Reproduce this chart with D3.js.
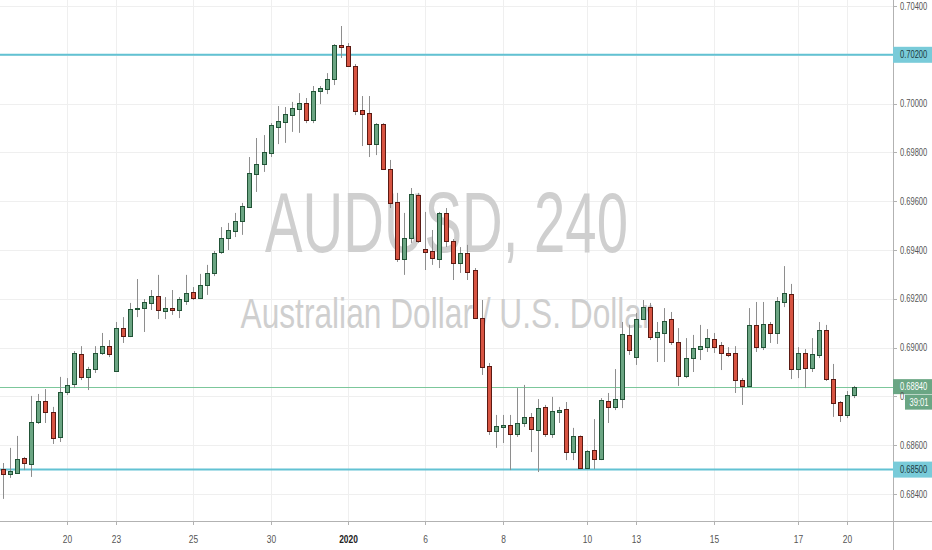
<!DOCTYPE html>
<html><head><meta charset="utf-8">
<script src="https://cdn.jsdelivr.net/npm/d3@7/dist/d3.min.js"></script>
<style>html,body{margin:0;padding:0;background:#fff;overflow:hidden}</style>
</head><body><svg id="c" width="932" height="550"></svg>
<script>
// ---- data (AUDUSD 4h candles) ----
const opens=[0.68502,0.68482,0.68486,0.68548,0.68523,0.68695,0.68781,0.68736,0.68634,0.68818,
0.68851,0.68974,0.68880,0.68912,0.68978,0.69006,0.68904,0.69080,0.69047,0.69158,
0.69162,0.69183,0.69211,0.69150,0.69162,0.69154,0.69191,0.69228,0.69203,0.69257,
0.69306,0.69392,0.69449,0.69478,0.69519,0.69576,0.69711,0.69752,0.69797,0.69904,
0.69925,0.69953,0.69978,0.70002,0.69933,0.70052,0.70060,0.70101,0.70240,0.70236,
0.70154,0.69974,0.69961,0.69834,0.69916,0.69732,0.69597,0.69363,0.69449,0.69625,
0.69404,0.69396,0.69363,0.69552,0.69437,0.69347,0.69388,0.69318,0.69121,0.68925,
0.68658,0.68675,0.68683,0.68646,0.68691,0.68716,0.68662,0.68757,0.68646,0.68736,
0.68748,0.68572,0.68638,0.68507,0.68580,0.68543,0.68781,0.68757,0.68789,0.69052,
0.68961,0.69117,0.69166,0.69043,0.69060,0.69117,0.69023,0.68884,0.68957,0.68994,
0.69002,0.69035,0.69011,0.68978,0.68978,0.68867,0.68843,0.69093,0.69002,0.69097,
0.69060,0.69187,0.69220,0.68912,0.68978,0.68916,0.68970,0.69072,0.68871,0.68777,
0.68724,0.68806];
const highs=[0.68527,0.68589,0.68638,0.68552,0.68802,0.68810,0.68830,0.68757,0.68880,0.68875,
0.68986,0.69006,0.68921,0.69006,0.69060,0.69031,0.69105,0.69125,0.69183,0.69281,
0.69199,0.69236,0.69298,0.69207,0.69236,0.69207,0.69298,0.69248,0.69302,0.69339,
0.69396,0.69494,0.69511,0.69552,0.69593,0.69781,0.69859,0.69871,0.69920,0.69990,
0.69986,0.70007,0.70043,0.70023,0.70072,0.70072,0.70125,0.70244,0.70318,0.70248,
0.70162,0.70031,0.70031,0.69920,0.69920,0.69769,0.69634,0.69552,0.69654,0.69634,
0.69556,0.69482,0.69556,0.69572,0.69445,0.69412,0.69421,0.69326,0.69195,0.68937,
0.68724,0.68724,0.68724,0.68834,0.68847,0.68732,0.68789,0.68765,0.68798,0.68757,
0.68777,0.68671,0.68640,0.68580,0.68707,0.68793,0.68814,0.68912,0.69105,0.69093,
0.69142,0.69195,0.69183,0.69105,0.69162,0.69146,0.69080,0.69039,0.69052,0.69093,
0.69076,0.69060,0.69023,0.69002,0.69006,0.68875,0.69162,0.69187,0.69187,0.69105,
0.69207,0.69334,0.69261,0.69002,0.68994,0.69039,0.69105,0.69093,0.68933,0.68781,
0.68822,0.68843];
const lows=[0.68380,0.68466,0.68482,0.68498,0.68470,0.68687,0.68691,0.68605,0.68613,0.68806,
0.68834,0.68867,0.68826,0.68896,0.68970,0.68961,0.68900,0.69019,0.69043,0.69125,
0.69064,0.69154,0.69117,0.69117,0.69134,0.69121,0.69175,0.69195,0.69199,0.69216,
0.69293,0.69384,0.69400,0.69453,0.69462,0.69572,0.69638,0.69720,0.69781,0.69834,
0.69839,0.69884,0.69880,0.69920,0.69920,0.69998,0.70039,0.70076,0.70187,0.70150,
0.69953,0.69826,0.69781,0.69789,0.69728,0.69572,0.69351,0.69298,0.69429,0.69429,
0.69318,0.69339,0.69326,0.69412,0.69277,0.69306,0.69277,0.69117,0.68888,0.68642,
0.68589,0.68609,0.68498,0.68634,0.68675,0.68572,0.68490,0.68634,0.68630,0.68691,
0.68539,0.68539,0.68502,0.68502,0.68502,0.68539,0.68691,0.68744,0.68752,0.68970,
0.68929,0.69113,0.69031,0.68941,0.68941,0.69011,0.68843,0.68875,0.68900,0.68949,
0.68982,0.68978,0.68908,0.68961,0.68814,0.68765,0.68839,0.68982,0.68990,0.69019,
0.69015,0.69166,0.68871,0.68875,0.68834,0.68900,0.68957,0.68863,0.68716,0.68695,
0.68711,0.68793];
const closes=[0.68482,0.68494,0.68543,0.68527,0.68695,0.68781,0.68736,0.68630,0.68818,0.68847,
0.68978,0.68880,0.68912,0.68978,0.69006,0.68974,0.69080,0.69047,0.69158,0.69162,
0.69187,0.69211,0.69154,0.69162,0.69154,0.69199,0.69224,0.69203,0.69257,0.69306,
0.69388,0.69449,0.69482,0.69519,0.69580,0.69716,0.69752,0.69802,0.69912,0.69929,
0.69957,0.69982,0.70002,0.69933,0.70052,0.70064,0.70101,0.70240,0.70234,0.70154,
0.69970,0.69957,0.69834,0.69916,0.69732,0.69593,0.69363,0.69449,0.69629,0.69437,
0.69392,0.69367,0.69552,0.69437,0.69347,0.69388,0.69310,0.69121,0.68921,0.68658,
0.68679,0.68683,0.68646,0.68691,0.68716,0.68666,0.68752,0.68646,0.68740,0.68744,
0.68572,0.68638,0.68507,0.68576,0.68543,0.68785,0.68757,0.68789,0.69056,0.68990,
0.69117,0.69166,0.69043,0.69064,0.69109,0.69023,0.68884,0.68957,0.68998,0.69006,
0.69039,0.69002,0.68978,0.68970,0.68867,0.68843,0.69093,0.69002,0.69097,0.69060,
0.69191,0.69224,0.68912,0.68978,0.68916,0.68974,0.69072,0.68871,0.68773,0.68724,
0.68806,0.68840];
const priceTicks=[0.684,0.686,0.688,0.690,0.692,0.694,0.696,0.698,0.700,0.702,0.704];
const timeTickIdx=[9,16,27,38,49,60,71,83,90,101,113,120];
const timeTickLabels=["20","23","25","30","2020","6","8","10","13","15","17","20"];
const levelLines=[0.702,0.685];
const lastPrice=0.6884;
const countdown="39:01";
const symbolText="AUDUSD, 240";
const descText="Australian Dollar / U.S. Dollar";

// ---- layout ----
const W=932,H=550,plotR=893,plotB=521;
const svg=d3.select("#c");
const font="'Liberation Sans',Arial,sans-serif";
const x=d3.scaleLinear().domain([0,opens.length-1]).range([3.3,854.3]);
const y=d3.scaleLinear().domain([0.684,0.704]).range([494,6]);
const px=v=>Math.round(x(v));
const py=v=>Math.round(y(v));
const SX=0.72; // narrow axis lettering

svg.append("rect").attr("width",W).attr("height",H).attr("fill","#fff");
const defs=svg.append("defs");
defs.append("clipPath").attr("id","peek").append("rect")
  .attr("x",plotR).attr("y",0).attr("width",12).attr("height",H);

// grid
const grid=svg.append("g");
grid.selectAll("line.h").data(priceTicks).join("line")
  .attr("x1",0).attr("x2",plotR).attr("y1",d=>py(d)+0.5).attr("y2",d=>py(d)+0.5)
  .attr("stroke","#efefef").attr("stroke-width",1);
grid.selectAll("line.v").data(timeTickIdx).join("line")
  .attr("x1",d=>px(d)+0.5).attr("x2",d=>px(d)+0.5).attr("y1",0).attr("y2",plotB)
  .attr("stroke","#efefef").attr("stroke-width",1);

// watermark
const cx=plotR/2;
svg.append("text").text(symbolText).attr("x",cx).attr("y",252).attr("text-anchor","middle")
  .attr("font-family",font).attr("font-size",86)
  .attr("textLength",363).attr("lengthAdjust","spacingAndGlyphs").attr("fill","#cfcfcf");
svg.append("text").text(descText).attr("x",cx).attr("y",328).attr("text-anchor","middle")
  .attr("font-family",font).attr("font-size",42)
  .attr("textLength",412).attr("lengthAdjust","spacingAndGlyphs").attr("fill","#cfcfcf");

// level lines
svg.selectAll("line.lvl").data(levelLines).join("line")
  .attr("x1",0).attr("x2",plotR).attr("y1",d=>y(d)).attr("y2",d=>y(d))
  .attr("stroke","#62c2d3").attr("stroke-width",2);
// last price line
svg.append("line").attr("x1",0).attr("x2",plotR).attr("y1",py(lastPrice)+0.5).attr("y2",py(lastPrice)+0.5)
  .attr("stroke","#7cc79b").attr("stroke-width",1);

// candles
const idx=d3.range(opens.length);
const cg=svg.append("g");
cg.selectAll("line.w").data(idx).join("line")
  .attr("x1",i=>px(i)+0.5).attr("x2",i=>px(i)+0.5)
  .attr("y1",i=>y(highs[i])).attr("y2",i=>y(lows[i]))
  .attr("stroke","#8e8e8e").attr("stroke-width",1);
cg.selectAll("rect.b").data(idx).join("rect")
  .attr("x",i=>px(i)-2+0.5).attr("width",4)
  .attr("y",i=>Math.round(y(Math.max(opens[i],closes[i])))+0.5)
  .attr("height",i=>Math.max(1,Math.round(y(Math.min(opens[i],closes[i])))-Math.round(y(Math.max(opens[i],closes[i])))))
  .attr("fill",i=>closes[i]>=opens[i]?"#6ba583":"#d75442")
  .attr("stroke",i=>closes[i]>=opens[i]?"#225437":"#5b1a13").attr("stroke-width",1);

// axes frame
svg.append("rect").attr("x",plotR+1).attr("y",0).attr("width",W-plotR).attr("height",H).attr("fill","#fff");
svg.append("rect").attr("x",0).attr("y",plotB+1).attr("width",W).attr("height",H-plotB).attr("fill","#fff");
svg.append("line").attr("x1",plotR+0.5).attr("x2",plotR+0.5).attr("y1",0).attr("y2",H).attr("stroke","#b2b2b2");
svg.append("line").attr("x1",0).attr("x2",W).attr("y1",plotB+0.5).attr("y2",plotB+0.5).attr("stroke","#b2b2b2");

// price axis
const shownTicks=priceTicks.filter(d=>!levelLines.includes(d) && d!==0.688);
const pa=svg.append("g");
pa.selectAll("line").data(priceTicks).join("line")
  .attr("x1",plotR).attr("x2",plotR+4).attr("y1",d=>py(d)+0.5).attr("y2",d=>py(d)+0.5).attr("stroke","#b2b2b2");
pa.selectAll("text").data(shownTicks).join("text")
  .text(d=>d.toFixed(5))
  .attr("transform",d=>`translate(${plotR+7},${y(d)+3.5}) scale(${SX},1)`)
  .attr("font-family",font).attr("font-size",10.5).attr("fill","#555");

// time axis
const ta=svg.append("g");
ta.selectAll("line").data(timeTickIdx).join("line")
  .attr("x1",d=>px(d)+0.5).attr("x2",d=>px(d)+0.5).attr("y1",plotB).attr("y2",plotB+4).attr("stroke","#b2b2b2");
ta.selectAll("text").data(timeTickIdx).join("text")
  .text((d,i)=>timeTickLabels[i])
  .attr("transform",d=>`translate(${px(d)+0.5},${plotB+22}) scale(0.8,1)`)
  .attr("text-anchor","middle").attr("font-family",font).attr("font-size",10.5)
  .attr("font-weight",(d,i)=>timeTickLabels[i].length===4?"bold":"normal")
  .attr("fill",(d,i)=>timeTickLabels[i].length===4?"#222":"#555");

// price labels
const lb=svg.append("g");
levelLines.forEach(v=>{
  lb.append("rect").attr("x",plotR).attr("y",y(v)-8).attr("width",W-plotR).attr("height",16).attr("fill","#79cbd9");
  lb.append("text").text(v.toFixed(5))
    .attr("transform",`translate(${plotR+7},${y(v)+3.5}) scale(${SX},1)`)
    .attr("font-family",font).attr("font-size",10.5).attr("fill","#1c3a40");
});
lb.append("rect").attr("x",plotR).attr("y",y(lastPrice)-7.5).attr("width",W-plotR).attr("height",15).attr("fill","#6aa684");
lb.append("text").text(lastPrice.toFixed(5))
  .attr("transform",`translate(${plotR+7},${y(lastPrice)+3.5}) scale(${SX},1)`)
  .attr("font-family",font).attr("font-size",10.5).attr("fill","#fff");
// the 0.68800 label is hidden by the countdown box; only its first glyph peeks out
lb.append("g").attr("clip-path","url(#peek)").append("text").text((0.688).toFixed(5))
  .attr("transform",`translate(${plotR+7},${y(0.688)+3.5}) scale(${SX},1)`)
  .attr("font-family",font).attr("font-size",10.5).attr("fill","#555");
lb.append("rect").attr("x",plotR+12).attr("y",y(lastPrice)+8).attr("width",W-plotR-12).attr("height",15).attr("fill","#6aa684");
lb.append("text").text(countdown)
  .attr("transform",`translate(${plotR+26},${y(lastPrice)+19}) scale(${SX},1)`)
  .attr("text-anchor","middle").attr("font-family",font).attr("font-size",10.5).attr("fill","#fff");
</script></body></html>
